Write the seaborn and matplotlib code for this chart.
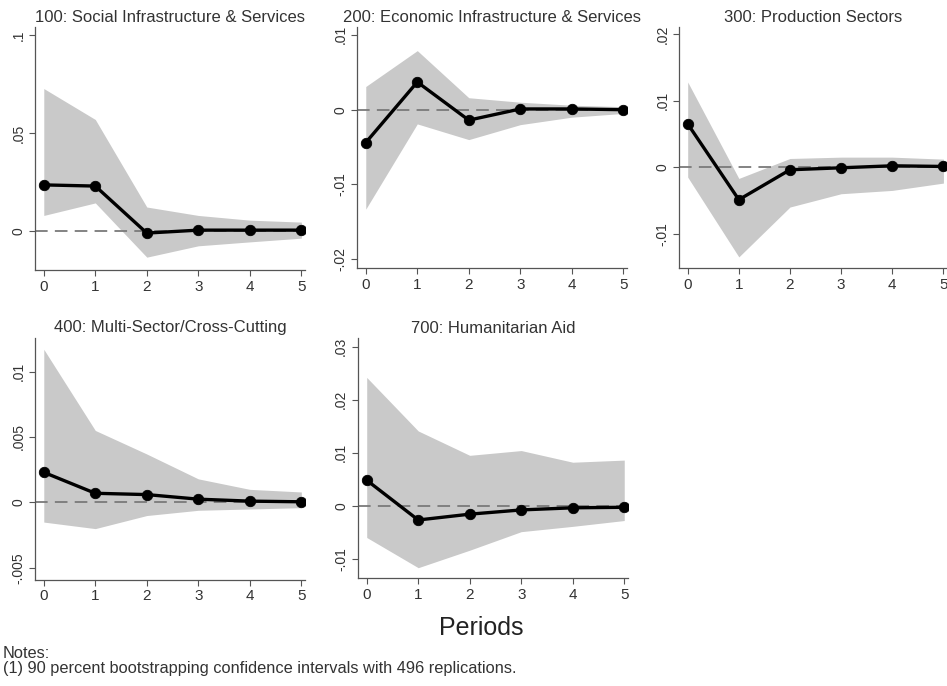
import numpy as np
import pandas as pd
import matplotlib
matplotlib.use("Agg")
import matplotlib.pyplot as plt
import seaborn as sns

# impulse responses by sector, periods 0..5
periods = [0, 1, 2, 3, 4, 5]

titles = [
    "100: Social Infrastructure & Services",
    "200: Economic Infrastructure & Services",
    "300: Production Sectors",
    "400: Multi-Sector/Cross-Cutting",
    "700: Humanitarian Aid",
]

irf_100 = [0.0236, 0.0230, -0.0010, 0.0005, 0.0005, 0.0005]
upper_100 = [0.0728, 0.0570, 0.0123, 0.0080, 0.0056, 0.0046]
lower_100 = [0.0080, 0.0144, -0.0133, -0.0075, -0.0055, -0.0036]

irf_200 = [-0.0044, 0.0037, -0.0014, 0.0001, 0.0001, 0.0000]
upper_200 = [0.0031, 0.0079, 0.0016, 0.0010, 0.0006, 0.0004]
lower_200 = [-0.0133, -0.0019, -0.0040, -0.0020, -0.0010, -0.0005]

irf_300 = [0.0065, -0.0049, -0.0004, -0.0001, 0.0002, 0.0001]
upper_300 = [0.0128, -0.0017, 0.0013, 0.0015, 0.0015, 0.0012]
lower_300 = [-0.0015, -0.0135, -0.0060, -0.0040, -0.0035, -0.0024]

irf_400 = [0.0023, 0.0007, 0.0006, 0.00025, 0.0001, 0.00005]
upper_400 = [0.0117, 0.0055, 0.0037, 0.0018, 0.0010, 0.0008]
lower_400 = [-0.0015, -0.0020, -0.0010, -0.0006, -0.0005, -0.0004]

irf_700 = [0.0048, -0.0027, -0.0016, -0.0008, -0.0004, -0.0003]
upper_700 = [0.0242, 0.0141, 0.0095, 0.0104, 0.0082, 0.0086]
lower_700 = [-0.0060, -0.0117, -0.0084, -0.0049, -0.0039, -0.0028]

ytick_vals = [
    [0, 0.05, 0.1],
    [-0.02, -0.01, 0, 0.01],
    [-0.01, 0, 0.01, 0.02],
    [-0.005, 0, 0.005, 0.01],
    [-0.01, 0, 0.01, 0.02, 0.03],
]
ytick_labels = [
    ["0", ".05", ".1"],
    ["-.02", "-.01", "0", ".01"],
    ["-.01", "0", ".01", ".02"],
    ["-.005", "0", ".005", ".01"],
    ["-.01", "0", ".01", ".02", ".03"],
]
ylims = [
    (-0.020, 0.104),
    (-0.0212, 0.011),
    (-0.0152, 0.021),
    (-0.0059, 0.0126),
    (-0.0137, 0.0316),
]

series = [
    (irf_100, lower_100, upper_100),
    (irf_200, lower_200, upper_200),
    (irf_300, lower_300, upper_300),
    (irf_400, lower_400, upper_400),
    (irf_700, lower_700, upper_700),
]

# axes rectangles in figure fractions
positions = [
    [0.037, 0.606, 0.285, 0.354],
    [0.377, 0.609, 0.285, 0.351],
    [0.717, 0.609, 0.283, 0.351],
    [0.037, 0.155, 0.285, 0.353],
    [0.378, 0.157, 0.285, 0.350],
]

sns.set_style("ticks")
plt.rcParams["font.family"] = ["Liberation Sans", "DejaVu Sans"]

fig = plt.figure(figsize=(9.47, 6.86), dpi=100)

for i in range(5):
    irf, lo, hi = series[i]
    df = pd.DataFrame({"period": periods, "irf": irf, "lo": lo, "hi": hi})
    ax = fig.add_axes(positions[i])

    ax.fill_between(df["period"], df["lo"], df["hi"], color="#c9c9c9", lw=0, zorder=1)
    ax.axhline(0, color="#7a7a7a", lw=1.3, ls=(0, (7, 4)), zorder=2)
    sns.lineplot(data=df, x="period", y="irf", ax=ax, color="black", lw=2.4,
                 marker="o", markersize=7.5, markeredgecolor="black",
                 markeredgewidth=0.6, zorder=3)

    ax.set_xlim(-0.17, 5.07)
    ax.set_ylim(*ylims[i])
    ax.set_xticks(periods)
    ax.set_xticklabels([str(p) for p in periods], fontsize=11, color="#333333")
    ax.set_yticks(ytick_vals[i])
    ax.set_yticklabels(ytick_labels[i], rotation=90, va="center", fontsize=10, color="#333333")
    ax.set_xlabel("")
    ax.set_ylabel("")
    ax.set_title(titles[i], fontsize=12, color="#333333", pad=4)

    sns.despine(ax=ax)
    for side in ["left", "bottom"]:
        ax.spines[side].set_color("#555555")
        ax.spines[side].set_linewidth(0.9)
    ax.tick_params(axis="both", length=4, width=0.8, color="#555555", pad=3)

fig.text(0.508, 0.085, "Periods", ha="center", va="center", fontsize=18, color="#222222")
fig.text(0.003, 0.048, "Notes:", ha="left", va="center", fontsize=11.8, color="#333333")
fig.text(0.003, 0.026, "(1) 90 percent bootstrapping confidence intervals with 496 replications.",
         ha="left", va="center", fontsize=11.8, color="#333333")

fig.savefig("out.png", dpi=100)
